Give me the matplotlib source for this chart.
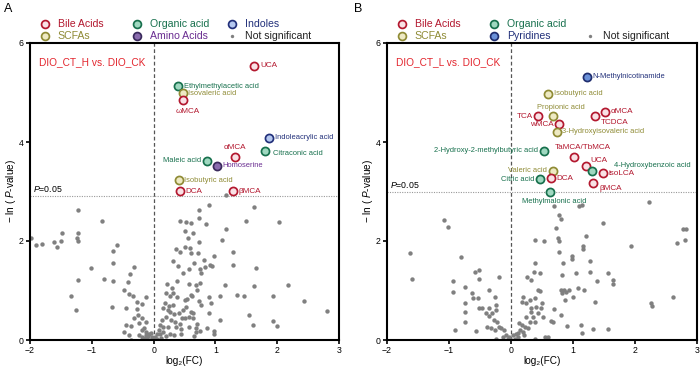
import numpy as np
import matplotlib
matplotlib.use('Agg')
import matplotlib.pyplot as plt

plt.rcParams['font.family'] = ['Liberation Sans', 'DejaVu Sans']
plt.rcParams['mathtext.fontset'] = 'custom'
plt.rcParams['mathtext.rm'] = 'Liberation Sans'
plt.rcParams['mathtext.it'] = 'Liberation Sans:italic'

# ---------------- panel A : DIO_CT_H vs. DIO_CK ----------------
a_ns_x = [-1.99, -1.90, -1.81, -1.61, -1.57, -1.50, -1.48, -1.23, -1.23, -1.24,
          -1.22, -1.23, -1.33, -1.25, -1.01, -0.83, -0.81, -0.66, -0.65, -0.59,
          -0.66, -0.67, -0.31, -0.38, -0.42, -0.48, -0.45, -0.39, -0.33, -0.13,
          -0.27, -0.18, -0.27, -0.25, -0.18, -0.32, -0.23, -0.12, -0.44, -0.36,
          -0.48, -0.40, -0.37, -0.18, -0.15, -0.12, -0.24, -0.18, -0.13, -0.09,
          -0.06, -0.03, 0.00, -0.08, -0.14, -0.05, -0.10,
          1.17, 0.43, 0.53, 0.60, 0.50, 0.64, 0.55, 0.74, 0.74, 0.84,
          0.90, 1.17, 1.10, 1.50, 1.63, 2.03, 0.37, 0.43, 0.50, 0.59,
          0.61, 0.73, 0.72, 1.28, 0.97, 0.32, 0.40, 0.47, 0.58, 0.65,
          0.75, 0.76, 0.81, 0.83, 0.92, 0.94, 1.28, 1.66, 0.22, 0.30,
          0.38, 0.58, 0.69, 0.75, 1.16, 1.63, 2.17, 0.70, 0.20, 0.27,
          0.32, 0.38, 0.51, 0.54, 0.60, 0.62, 0.89, 1.07, 1.35, 1.46,
          1.94, 2.44, 2.81, 0.74, 0.93, 0.77, 0.18, 0.25, 0.32, 0.16,
          0.23, 0.27, 0.33, 0.41, 0.47, 0.51, 0.52, 0.61, 0.46, 0.57,
          0.63, 0.64, 0.89, 1.08, 1.54, 1.93, 1.99, 1.61, 0.20, 0.13,
          0.28, 0.35, 0.10, 0.16, 0.24, 0.36, 0.43, 0.45, 0.57, 0.71,
          0.68, 0.86, 0.69, 0.75, 0.97, 0.97, 0.66, 0.08, 0.05, 0.10,
          0.16, 0.26, 0.33, 0.45, 0.02, 0.05, 0.12, 0.20]
a_ns_y = [2.07, 1.92, 1.93, 1.97, 1.87, 2.00, 2.17, 2.63, 2.17, 2.07,
          1.99, 1.21, 0.88, 0.61, 1.46, 2.41, 1.23, 1.80, 1.56, 1.92,
          1.20, 0.66, 1.48, 1.33, 1.18, 1.01, 0.65, 0.92, 0.88, 0.87,
          0.76, 0.73, 0.63, 0.51, 0.45, 0.44, 0.35, 0.37, 0.30, 0.29,
          0.17, 0.10, 0.01, 0.20, 0.25, 0.17, 0.10, 0.07, 0.11, 0.08,
          0.01, 0.06, 0.03, 0.13, 0.04, 0.15, 0.02,
          2.92, 2.40, 2.39, 2.36, 2.21, 2.17, 2.07, 2.63, 2.47, 2.35,
          2.73, 2.24, 2.03, 2.41, 2.69, 2.38, 1.83, 1.78, 1.87, 1.86,
          1.76, 1.97, 1.76, 1.78, 1.70, 1.60, 1.50, 1.36, 1.43, 1.55,
          1.43, 1.36, 1.62, 1.47, 1.51, 1.50, 1.51, 1.45, 1.14, 1.05,
          1.19, 1.14, 1.12, 1.16, 1.12, 1.09, 1.12, 1.01, 0.94, 0.88,
          0.94, 0.86, 0.81, 0.82, 0.90, 0.89, 0.86, 0.88, 0.90, 0.89,
          0.89, 0.79, 0.59, 0.79, 0.74, 0.71, 0.74, 0.69, 0.71, 0.64,
          0.61, 0.57, 0.53, 0.54, 0.61, 0.45, 0.67, 0.57, 0.45, 0.46,
          0.45, 0.55, 0.55, 0.40, 0.50, 0.39, 0.29, 0.31, 0.47, 0.40,
          0.40, 0.37, 0.30, 0.27, 0.27, 0.27, 0.32, 0.23, 0.27, 0.33,
          0.25, 0.25, 0.17, 0.19, 0.19, 0.12, 0.09, 0.20, 0.13, 0.12,
          0.17, 0.13, 0.10, 0.13, 0.07, 0.03, 0.05, 0.08]

a_names = ['UCA', 'Ethylmethylacetic acid', 'Isovaleric acid', 'ωMCA',
           'Indoleacrylic acid', 'αMCA', 'Citraconic acid', 'Maleic acid',
           'Homoserine', 'Isobutyric acid', 'DCA', 'βMCA']
a_fc = [1.63, 0.40, 0.47, 0.48, 1.87, 1.32, 1.80, 0.86, 1.03, 0.41, 0.43, 1.29]
a_p = [5.54, 5.13, 4.98, 4.84, 4.09, 3.70, 3.82, 3.62, 3.52, 3.23, 3.01, 3.01]
a_cat = ['Bile Acids', 'Organic acid', 'SCFAs', 'Bile Acids', 'Indoles',
         'Bile Acids', 'Organic acid', 'Organic acid', 'Amino Acids', 'SCFAs',
         'Bile Acids', 'Bile Acids']
a_legend = ['Bile Acids', 'SCFAs', 'Organic acid', 'Amino Acids', 'Indoles',
            'Not significant']

# ---------------- panel B : DIO_CT_L vs. DIO_CK ----------------
b_ns_x = [-1.63, -1.59, -1.08, -1.02, -0.80, -0.93, -0.93, -0.75, -0.75, -0.74,
          -0.75, -0.91, -0.58, -0.51, -0.51, -0.63, -0.61, -0.54, -0.56, -0.51,
          -0.46, -0.35, -0.26, -0.19, -0.36, -0.40, -0.35, -0.30, -0.24, -0.24,
          -0.28, -0.22, -0.38, -0.32, -0.26, -0.20, -0.16, -0.11, -0.24, -0.13,
          -0.08, -0.05, -0.03, 0.03, 0.08, 0.11, 0.15, 0.19, 0.23, 0.27,
          0.18, 0.13, 0.30, 0.35, 0.39, 0.43, 0.48, 0.50, 0.40, 0.19,
          0.18, 0.24, 0.30, 0.32, 0.38, 0.43, 0.46, 0.32, 0.24, 0.51,
          0.55, 0.59, 0.39, 0.26, 0.33, 0.37, 0.38, 0.47, 0.39, 0.53,
          0.69, 0.78, 0.81, 0.73, 0.75, 0.77, 0.77, 0.84, 0.83, 0.80,
          0.85, 0.94, 0.83, 0.89, 0.98, 0.98, 1.05, 1.08, 1.18, 0.87,
          1.00, 0.80, 0.69, 0.64, 0.67, 0.90, 1.13, 1.14, 1.33, 1.57,
          1.35, 1.10, 1.14, 1.21, 1.16, 1.16, 1.27, 1.27, 1.38, 1.49,
          1.56, 1.64, 1.64, 1.94, 2.23, 2.62, 2.26, 2.27, 2.68, 2.77,
          2.82, 2.81, 0.06, 0.12, 0.21, 0.00]
b_ns_y = [1.75, 1.23, 2.42, 2.28, 1.68, 1.20, 0.97, 1.07, 0.74, 0.56,
          0.37, 0.20, 1.37, 1.41, 1.23, 0.94, 0.85, 0.85, 0.19, 0.65,
          0.64, 1.01, 0.86, 1.28, 0.65, 0.55, 0.48, 0.54, 0.71, 0.61,
          0.40, 0.37, 0.27, 0.24, 0.20, 0.27, 0.24, 0.20, 0.02, 0.07,
          0.10, 0.03, 0.07, 0.10, 0.13, 0.07, 0.20, 0.17, 0.27, 0.24,
          0.30, 0.34, 0.37, 0.47, 0.37, 0.54, 0.64, 0.74, 0.67, 0.86,
          0.77, 0.74, 0.81, 0.57, 0.84, 1.01, 0.98, 0.64, 0.47, 0.47,
          0.07, 0.07, 0.03, 1.27, 1.21, 1.37, 1.56, 1.36, 2.02, 1.99,
          2.71, 2.53, 2.44, 2.27, 2.07, 2.00, 1.78, 1.56, 1.31, 1.02,
          1.01, 1.01, 0.94, 0.96, 1.70, 1.64, 1.36, 1.06, 1.01, 0.81,
          0.86, 0.51, 0.63, 0.38, 0.37, 0.29, 0.31, 0.15, 0.23, 0.22,
          0.76, 2.71, 2.73, 2.11, 1.90, 1.83, 1.60, 1.38, 1.19, 2.37,
          1.36, 1.21, 1.13, 1.89, 2.78, 0.87, 0.74, 0.69, 1.96, 2.24,
          2.24, 2.02, 0.03, 0.14, 0.10, 0.01]

b_names = ['N-Methylnicotinamide', 'Isobutyric acid', 'Propionic acid', 'TCA',
           'wMCA', '3-Hydroxyisovaleric acid', 'αMCA', 'TCDCA',
           '2-Hydroxy-2-methylbutyric acid', 'TaMCA/TbMCA', 'UCA',
           '4-Hydroxybenzoic acid', 'isoLCA', 'Valeric acid', 'DCA',
           'Citric acid', 'βMCA', 'Methylmalonic acid']
b_fc = [1.22, 0.60, 0.67, 0.44, 0.78, 0.74, 1.52, 1.36, 0.53, 1.02, 1.21,
        1.30, 1.48, 0.67, 0.64, 0.47, 1.33, 0.63]
b_p = [5.32, 4.97, 4.52, 4.52, 4.36, 4.21, 4.61, 4.52, 3.82, 3.70, 3.52,
       3.42, 3.37, 3.42, 3.27, 3.25, 3.18, 3.00]
b_cat = ['Pyridines', 'SCFAs', 'SCFAs', 'Bile Acids', 'Bile Acids', 'SCFAs',
         'Bile Acids', 'Bile Acids', 'Organic acid', 'Bile Acids', 'Bile Acids',
         'Organic acid', 'Bile Acids', 'SCFAs', 'Bile Acids', 'Organic acid',
         'Bile Acids', 'Organic acid']
b_legend = ['Bile Acids', 'SCFAs', 'Organic acid', 'Pyridines', None,
            'Not significant']

# face, edge, text colour per class
styles = {'Bile Acids':   ('#f9e1e5', '#b3182f', '#b3182f'),
          'SCFAs':        ('#eeeac3', '#8f8b35', '#8f8b35'),
          'Organic acid': ('#9fd8c0', '#17704d', '#17704d'),
          'Indoles':      ('#b5c8f0', '#22307a', '#22307a'),
          'Amino Acids':  ('#8a6cae', '#3a2a5c', '#6a2d91'),
          'Pyridines':    ('#6a90d8', '#1f2d6e', '#22307a')}
grey = '#808080'

# label offsets (points): (dx, dy, ha)
R, L = (4, 0, 'left'), (-4, 0, 'right')
a_off = [R, R, R, (3, -8, 'center'), R, (0, 7, 'center'), (6, -2, 'left'),
         L, R, R, R, R]
b_off = [R, R, (6, 6.5, 'center'), L, L, R, R, (4, -4.5, 'left'), L,
         (6, 6.5, 'center'), (3, 3.5, 'left'), (16, 4, 'left'), R, L, R, L,
         (4, -4, 'left'), (3, -7.5, 'center')]


def panel(ax, nsx, nsy, names, fc, p, cat, off, title, thr, legend):
    ax.scatter(nsx, nsy, s=10, color=grey, lw=0, zorder=2)
    for n, x, y, c, o in zip(names, fc, p, cat, off):
        face, edge, tcol = styles[c]
        ax.scatter(x, y, s=34, facecolor=face, edgecolor=edge, lw=1.25, zorder=3)
        fs = 5.9 if c == 'Bile Acids' else 5.4
        ax.annotate(n, (x, y), xytext=(o[0], o[1]), textcoords='offset points',
                    ha=o[2], va='center', fontsize=fs, color=tcol, zorder=4)
    ax.axvline(0, color='#555555', ls=(0, (3, 2)), lw=0.9, zorder=1)
    ax.axhline(thr, color='#999999', ls=(0, (1, 1.2)), lw=0.8, zorder=1)
    ax.text(-1.95, thr + 0.04, r'$\it{P}$=0.05', fontsize=6.3, va='bottom')
    ax.text(0.03, 0.935, title, color='#e3262e', fontsize=7.3, va='center',
            transform=ax.transAxes)
    ax.set_xlim(-2, 3)
    ax.set_ylim(0, 6)
    ax.set_xticks([-2, -1, 0, 1, 2, 3])
    ax.set_xticklabels(['\u22122', '\u22121', '0', '1', '2', '3'])
    ax.set_yticks([0, 2, 4, 6])
    ax.tick_params(labelsize=6.3, width=1.2, length=3, direction='out', pad=1.5)
    for s in ax.spines.values():
        s.set_linewidth(1.5)
    ax.set_xlabel('log\u2082(FC)', fontsize=7.2)
    ax.xaxis.set_label_coords(0.5, -0.055)
    ax.set_ylabel(r'$-$ ln ( $\it{P}$-value)', fontsize=7.2)
    ax.yaxis.set_label_coords(-0.04, 0.5)
    # legend, 3 columns x 2 rows
    colx = [0.048, 0.345, 0.655]
    rowy = [1.064, 1.024]
    for i, lab in enumerate(legend):
        if lab is None:
            continue
        cx, ry = colx[i // 2], rowy[i % 2]
        if lab == 'Not significant':
            ax.scatter(cx, ry, s=6, color=grey, lw=0, transform=ax.transAxes,
                       clip_on=False)
            tcol = '#222222'
        else:
            face, edge, tcol = styles[lab]
            ax.scatter(cx, ry, s=32, facecolor=face, edgecolor=edge, lw=1.25,
                       transform=ax.transAxes, clip_on=False)
        ax.text(cx + 0.042, ry, lab, color=tcol, fontsize=7.6, va='center',
                transform=ax.transAxes)


fig = plt.figure(figsize=(7, 3.71), dpi=100)
axA = fig.add_axes([30 / 700, 31 / 371, 309 / 700, 297 / 371])
axB = fig.add_axes([387 / 700, 31 / 371, 310 / 700, 297 / 371])
panel(axA, a_ns_x, a_ns_y, a_names, a_fc, a_p, a_cat, a_off,
      'DIO_CT_H vs. DIO_CK', 2.9, a_legend)
panel(axB, b_ns_x, b_ns_y, b_names, b_fc, b_p, b_cat, b_off,
      'DIO_CT_L vs. DIO_CK', 3.0, b_legend)
fig.text(4 / 700, 1 - 3 / 371, 'A', fontsize=9, va='top')
fig.text(354 / 700, 1 - 3 / 371, 'B', fontsize=9, va='top')

fig.savefig('out.png', dpi=100)
